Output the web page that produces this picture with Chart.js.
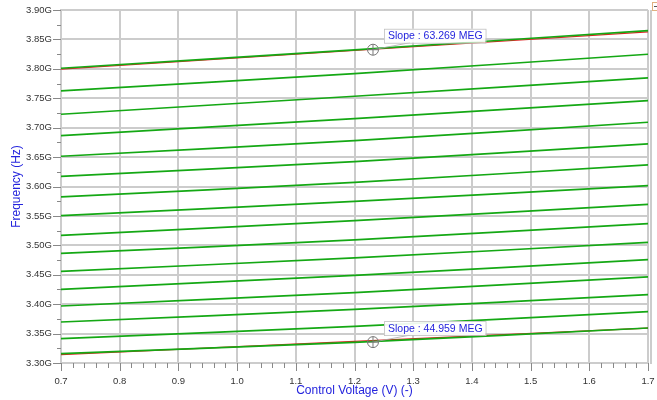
<!DOCTYPE html>
<html>
<head>
<meta charset="utf-8">
<script src="https://cdn.jsdelivr.net/npm/chart.js@4.4.1/dist/chart.umd.min.js"></script>
<style>
  html, body { margin: 0; padding: 0; background: #fff; }
  #wrap { width: 657px; height: 400px; }
</style>
</head>
<body>
<div id="wrap"><canvas id="chart"></canvas></div>
<script>
// control voltage sample points (V)
const voltages = [0.7, 1.2, 1.7];

// frequency of each sweep curve (GHz) read at 0.7 V, 1.2 V and 1.7 V
const freqAt07 = [3.801, 3.7626, 3.7228, 3.6866, 3.6514, 3.6173, 3.5823, 3.5505, 3.5170, 3.4864, 3.4558, 3.4252, 3.3969, 3.3697, 3.3413, 3.3160];
const freqAt12 = [3.8323, 3.7920, 3.7534, 3.7155, 3.6781, 3.6423, 3.6071, 3.5748, 3.5420, 3.5092, 3.4786, 3.4490, 3.4196, 3.3912, 3.3622, 3.3350];
const freqAt17 = [3.8651, 3.8248, 3.7847, 3.7461, 3.7092, 3.6724, 3.6367, 3.6015, 3.5697, 3.5369, 3.5051, 3.4757, 3.4463, 3.4162, 3.3872, 3.3595];

// slope fit lines (red) on top and bottom curves
const fitTop = [3.7995, 3.8312, 3.8628];
const fitBottom = [3.3143, 3.3368, 3.3593];

// slope markers
const markerVoltage = [1.2315, 1.2315];
const markerFreq = [3.8325, 3.3355];
const slopeLabels = ['Slope : 63.269 MEG', 'Slope : 44.959 MEG'];

const GREEN = '#14a814';
const RED = '#dd2222';
const BLUE = '#2424dd';
const GRID = '#cccccc';
const FONT = '"Liberation Sans", Arial, sans-serif';

const toPoints = ys => voltages.map((v, i) => ({ x: v, y: ys[i] }));

const datasets = [];
for (let i = 0; i < freqAt07.length; i++) {
  datasets.push({
    data: toPoints([freqAt07[i], freqAt12[i], freqAt17[i]]),
    borderColor: GREEN,
    borderWidth: 1.7,
    pointRadius: 0,
    tension: 0.3,
  });
}
[fitTop, fitBottom].forEach(f => {
  datasets.push({
    data: toPoints(f),
    borderColor: RED,
    borderWidth: 1.2,
    pointRadius: 0,
  });
});

// minor ticks, right border, slope markers
const extras = {
  id: 'extras',
  afterDraw(chart) {
    const { ctx, chartArea: a, scales: { x, y } } = chart;
    ctx.save();
    ctx.strokeStyle = '#888';
    ctx.lineWidth = 1;
    // x ticks
    for (let k = 0; k <= 50; k++) {
      const v = 0.7 + k * 0.02;
      const px = Math.round(x.getPixelForValue(v)) + 0.5;
      const len = k % 5 === 0 ? 8 : 5;
      ctx.beginPath();
      ctx.moveTo(px, a.bottom);
      ctx.lineTo(px, a.bottom + len);
      ctx.stroke();
    }
    // y ticks
    for (let k = 0; k <= 24; k++) {
      const v = 3.3 + k * 0.025;
      const py = Math.round(y.getPixelForValue(v)) + 0.5;
      const len = k % 2 === 0 ? 8 : 4;
      ctx.beginPath();
      ctx.moveTo(a.left - len, py);
      ctx.lineTo(a.left, py);
      ctx.stroke();
    }
    // doubled right border
    ctx.strokeStyle = GRID;
    ctx.lineWidth = 2;
    ctx.beginPath();
    ctx.moveTo(a.right + 3, a.top);
    ctx.lineTo(a.right + 3, a.bottom + 1);
    ctx.stroke();

    // small legend glyph top right
    ctx.strokeStyle = '#e0b080';
    ctx.lineWidth = 1;
    ctx.strokeRect(652.5, 2.5, 6, 8);
    ctx.strokeStyle = '#555';
    ctx.beginPath();
    ctx.moveTo(654, 6.5);
    ctx.lineTo(657, 6.5);
    ctx.stroke();

    // slope markers
    ctx.font = '10.5px ' + FONT;
    ctx.textBaseline = 'middle';
    for (let i = 0; i < slopeLabels.length; i++) {
      const mx = x.getPixelForValue(markerVoltage[i]);
      const my = y.getPixelForValue(markerFreq[i]);
      const bx = mx + 11, by = my - 21;
      const tw = ctx.measureText(slopeLabels[i]).width;
      const bw = tw + 7, bh = 14;
      ctx.strokeStyle = '#aaa';
      ctx.lineWidth = 0.8;
      ctx.beginPath();
      ctx.moveTo(mx, my);
      ctx.lineTo(bx + 26, by + bh);
      ctx.stroke();
      ctx.fillStyle = 'rgba(255,255,255,0.92)';
      ctx.fillRect(bx, by, bw, bh);
      ctx.strokeStyle = '#c0c0c0';
      ctx.strokeRect(bx + 0.5, by + 0.5, bw, bh);
      ctx.fillStyle = BLUE;
      ctx.fillText(slopeLabels[i], bx + 4, by + bh / 2 + 0.5);
      // crosshair circle
      ctx.strokeStyle = '#777';
      ctx.lineWidth = 1;
      ctx.beginPath();
      ctx.arc(mx, my, 5.5, 0, Math.PI * 2);
      ctx.stroke();
      ctx.beginPath();
      ctx.moveTo(mx - 5.5, my); ctx.lineTo(mx + 5.5, my);
      ctx.moveTo(mx, my - 5.5); ctx.lineTo(mx, my + 5.5);
      ctx.stroke();
    }
    ctx.restore();
  }
};

new Chart(document.getElementById('chart'), {
  type: 'line',
  data: { datasets },
  plugins: [extras],
  options: {
    responsive: true,
    maintainAspectRatio: false,
    animation: false,
    layout: { padding: { left: 0, right: 9, top: 10, bottom: 0 } },
    plugins: { legend: { display: false }, tooltip: { enabled: false } },
    scales: {
      x: {
        type: 'linear',
        min: 0.7,
        max: 1.7,
        afterFit: s => { s.height = 37; },
        grid: { color: GRID, lineWidth: 2, drawTicks: true, tickLength: 13, tickColor: 'rgba(0,0,0,0)' },
        border: { color: GRID, width: 2 },
        ticks: {
          stepSize: 0.1,
          padding: 0,
          color: '#333',
          font: { family: FONT, size: 9.5 },
          callback: v => v.toFixed(1),
        },
        title: {
          display: true,
          text: 'Control Voltage (V) (-)',
          color: BLUE,
          padding: { top: 0, bottom: 2 },
          font: { family: FONT, size: 12 },
        },
      },
      y: {
        min: 3.3,
        max: 3.9,
        afterFit: s => { s.width = 61; },
        grid: { color: GRID, lineWidth: 2, drawTicks: true, tickLength: 9, tickColor: 'rgba(0,0,0,0)' },
        border: { color: GRID, width: 2 },
        ticks: {
          stepSize: 0.05,
          padding: 0,
          color: '#333',
          font: { family: FONT, size: 9.5 },
          callback: v => v.toFixed(2) + 'G',
        },
        title: {
          display: true,
          text: 'Frequency (Hz)',
          color: BLUE,
          padding: { top: 9, bottom: 0 },
          font: { family: FONT, size: 12 },
        },
      },
    },
  },
});
</script>
</body>
</html>
